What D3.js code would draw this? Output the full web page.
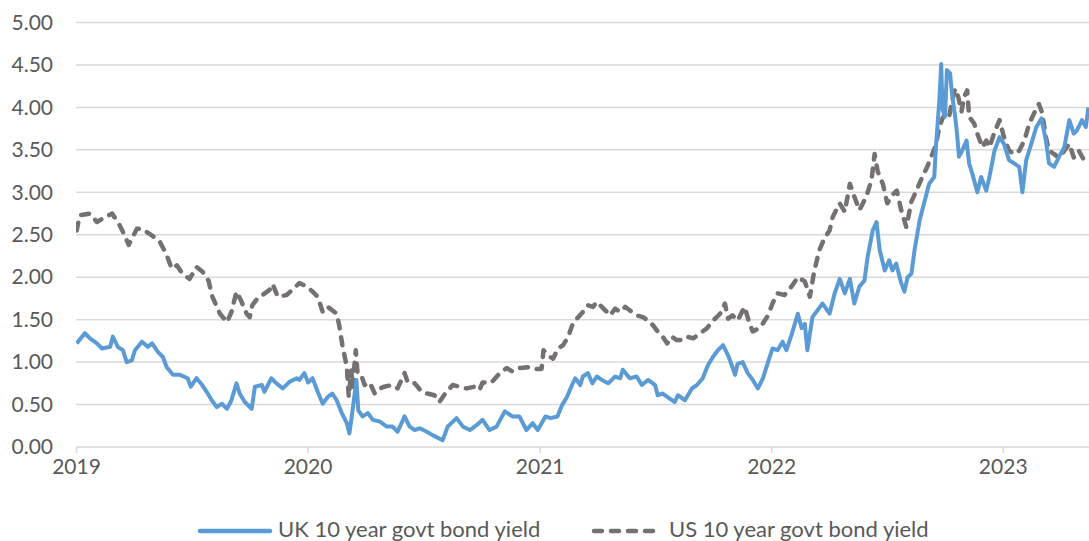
<!DOCTYPE html>
<html>
<head>
<meta charset="utf-8">
<script src="https://cdn.jsdelivr.net/npm/d3@7"></script>
<style>
  html, body { margin: 0; padding: 0; background: #fff; }
  svg { display: block; font-family: Lato, "Open Sans", sans-serif; }
</style>
</head>
<body>
<svg id="chart" width="1089" height="541"></svg>
<script>
// UK 10-year government bond yield (%)
const ukDates = [
  "2019-01-02","2019-01-15","2019-01-23","2019-02-03","2019-02-11","2019-02-24","2019-02-28","2019-03-08","2019-03-16","2019-03-22",
  "2019-03-30","2019-04-04","2019-04-15","2019-04-24","2019-05-01","2019-05-10","2019-05-18","2019-05-24","2019-06-03","2019-06-14",
  "2019-06-26","2019-07-01","2019-07-10","2019-07-18","2019-07-26","2019-08-03","2019-08-11","2019-08-19","2019-08-27","2019-09-03",
  "2019-09-11","2019-09-16","2019-09-24","2019-10-05","2019-10-10","2019-10-21","2019-10-25","2019-11-05","2019-11-13","2019-11-23",
  "2019-12-04","2019-12-15","2019-12-19","2019-12-27","2020-01-02","2020-01-09","2020-01-17","2020-01-25","2020-02-02","2020-02-09",
  "2020-02-16","2020-02-24","2020-03-03","2020-03-07","2020-03-12","2020-03-18","2020-03-21","2020-03-28","2020-04-05","2020-04-13",
  "2020-04-24","2020-05-05","2020-05-14","2020-05-22","2020-06-02","2020-06-10","2020-06-18","2020-06-26","2020-07-07","2020-07-16",
  "2020-08-01","2020-08-09","2020-08-23","2020-09-02","2020-09-13","2020-09-24","2020-10-03","2020-10-14","2020-10-25","2020-11-07",
  "2020-11-19","2020-11-30","2020-12-11","2020-12-21","2020-12-29","2021-01-10","2021-01-18","2021-01-29","2021-02-05","2021-02-13",
  "2021-02-21","2021-02-26","2021-03-06","2021-03-10","2021-03-18","2021-03-25","2021-04-01","2021-04-09","2021-04-19","2021-04-30",
  "2021-05-08","2021-05-12","2021-05-23","2021-06-03","2021-06-11","2021-06-21","2021-07-02","2021-07-06","2021-07-14","2021-07-25",
  "2021-08-02","2021-08-07","2021-08-18","2021-08-29","2021-09-06","2021-09-15","2021-09-23","2021-10-01","2021-10-09","2021-10-17",
  "2021-10-25","2021-10-31","2021-11-05","2021-11-09","2021-11-17","2021-11-25","2021-12-03","2021-12-11","2021-12-19","2021-12-27",
  "2022-01-03","2022-01-11","2022-01-19","2022-01-25","2022-02-02","2022-02-12","2022-02-18","2022-02-23","2022-02-27","2022-03-07",
  "2022-03-15","2022-03-23","2022-04-03","2022-04-11","2022-04-19","2022-04-27","2022-05-05","2022-05-12","2022-05-20","2022-05-28",
  "2022-06-02","2022-06-10","2022-06-16","2022-06-21","2022-06-29","2022-07-06","2022-07-11","2022-07-17","2022-07-25","2022-07-30",
  "2022-08-04","2022-08-10","2022-08-15","2022-08-23","2022-08-30","2022-09-07","2022-09-15","2022-09-18","2022-09-23","2022-09-26",
  "2022-09-28","2022-10-02","2022-10-05","2022-10-10","2022-10-13","2022-10-18","2022-10-21","2022-10-24","2022-10-29","2022-11-05",
  "2022-11-09","2022-11-14","2022-11-22","2022-11-28","2022-12-06","2022-12-11","2022-12-19","2022-12-27","2023-01-03","2023-01-11",
  "2023-01-19","2023-01-27","2023-02-01","2023-02-07","2023-02-15","2023-02-23","2023-03-03","2023-03-10","2023-03-15","2023-03-23",
  "2023-03-31","2023-04-08","2023-04-16","2023-04-23","2023-04-28","2023-05-06","2023-05-12","2023-05-16"
];
const ukYield = [
  1.22,1.34,1.28,1.22,1.16,1.18,1.30,1.18,1.14,1.00,
  1.02,1.14,1.24,1.18,1.22,1.12,1.06,0.94,0.85,0.85,
  0.81,0.71,0.81,0.74,0.65,0.55,0.47,0.51,0.45,0.55,
  0.75,0.63,0.53,0.45,0.71,0.73,0.65,0.81,0.75,0.69,
  0.77,0.81,0.79,0.87,0.76,0.81,0.65,0.51,0.59,0.63,
  0.55,0.40,0.28,0.16,0.43,0.79,0.43,0.36,0.40,0.32,
  0.30,0.24,0.24,0.18,0.36,0.24,0.20,0.22,0.18,0.14,
  0.08,0.24,0.34,0.24,0.20,0.26,0.32,0.20,0.24,0.42,
  0.36,0.36,0.20,0.28,0.20,0.36,0.34,0.36,0.49,0.59,
  0.73,0.81,0.73,0.83,0.87,0.75,0.83,0.79,0.75,0.83,
  0.81,0.91,0.81,0.83,0.73,0.79,0.73,0.61,0.63,0.57,
  0.53,0.61,0.55,0.69,0.73,0.81,0.96,1.06,1.14,1.20,
  1.08,0.96,0.85,0.98,1.00,0.87,0.79,0.69,0.81,1.00,
  1.16,1.14,1.24,1.14,1.32,1.57,1.40,1.45,1.14,1.53,
  1.61,1.69,1.57,1.81,1.98,1.81,1.98,1.69,1.89,1.96,
  2.24,2.55,2.65,2.32,2.08,2.20,2.08,2.16,1.93,1.83,
  2.00,2.04,2.32,2.67,2.87,3.10,3.18,3.57,4.08,4.51,
  3.98,3.89,4.44,4.40,4.16,3.89,3.69,3.42,3.49,3.61,
  3.34,3.22,3.00,3.18,3.02,3.18,3.49,3.65,3.57,3.38,
  3.34,3.30,3.00,3.38,3.57,3.77,3.87,3.61,3.34,3.30,
  3.42,3.53,3.85,3.69,3.73,3.85,3.77,4.00
];

// US 10-year government bond yield (%)
const usDates = [
  "2019-01-02","2019-01-07","2019-01-23","2019-02-03","2019-02-12","2019-02-27","2019-03-11","2019-03-19","2019-03-25","2019-04-07",
  "2019-04-15","2019-05-01","2019-05-13","2019-05-24","2019-06-01","2019-06-09","2019-06-18","2019-06-29","2019-07-10","2019-07-20",
  "2019-07-29","2019-08-03","2019-08-11","2019-08-16","2019-08-27","2019-09-03","2019-09-11","2019-09-19","2019-09-27","2019-10-02",
  "2019-10-06","2019-10-14","2019-10-22","2019-11-02","2019-11-07","2019-11-15","2019-11-29","2019-12-08","2019-12-19","2019-12-31",
  "2020-01-09","2020-01-17","2020-01-25","2020-02-02","2020-02-09","2020-02-16","2020-02-20","2020-02-25","2020-03-03","2020-03-06",
  "2020-03-10","2020-03-12","2020-03-17","2020-03-20","2020-03-26","2020-03-31","2020-04-08","2020-04-16","2020-04-24","2020-05-01",
  "2020-05-13","2020-05-22","2020-06-02","2020-06-07","2020-06-18","2020-06-29","2020-07-08","2020-07-19","2020-07-27","2020-08-07",
  "2020-08-17","2020-08-28","2020-09-08","2020-09-20","2020-09-28","2020-10-03","2020-10-17","2020-10-30","2020-11-10","2020-11-19",
  "2020-11-30","2020-12-16","2020-12-24","2021-01-04","2021-01-07","2021-01-14","2021-01-22","2021-01-30","2021-02-07","2021-02-15",
  "2021-02-23","2021-03-03","2021-03-10","2021-03-18","2021-03-26","2021-04-01","2021-04-09","2021-04-17","2021-04-22","2021-04-30",
  "2021-05-08","2021-05-16","2021-05-23","2021-06-03","2021-06-13","2021-06-21","2021-06-29","2021-07-06","2021-07-14","2021-07-21",
  "2021-07-28","2021-08-05","2021-08-13","2021-08-21","2021-08-31","2021-09-11","2021-09-22","2021-09-29","2021-10-07","2021-10-15",
  "2021-10-20","2021-10-25","2021-11-01","2021-11-09","2021-11-20","2021-11-28","2021-12-03","2021-12-15","2021-12-27","2022-01-03",
  "2022-01-11","2022-01-22","2022-02-02","2022-02-12","2022-02-23","2022-03-03","2022-03-10","2022-03-18","2022-03-26","2022-04-03",
  "2022-04-08","2022-04-19","2022-04-27","2022-05-05","2022-05-12","2022-05-20","2022-05-31","2022-06-08","2022-06-13","2022-06-18",
  "2022-06-26","2022-07-03","2022-07-11","2022-07-18","2022-07-25","2022-08-02","2022-08-10","2022-08-18","2022-08-27","2022-09-04",
  "2022-09-12","2022-09-18","2022-09-23","2022-09-28","2022-10-04","2022-10-09","2022-10-13","2022-10-18","2022-10-23","2022-10-28",
  "2022-11-01","2022-11-06","2022-11-09","2022-11-17","2022-11-22","2022-11-30","2022-12-06","2022-12-11","2022-12-19","2022-12-27",
  "2023-01-03","2023-01-11","2023-01-19","2023-01-27","2023-02-04","2023-02-12","2023-02-20","2023-02-27","2023-03-04","2023-03-10",
  "2023-03-15","2023-03-23","2023-03-31","2023-04-08","2023-04-16","2023-04-23","2023-05-01","2023-05-09","2023-05-16"
];
const usYield = [
  2.55,2.73,2.75,2.65,2.69,2.75,2.61,2.49,2.38,2.57,
  2.57,2.49,2.42,2.26,2.10,2.14,2.04,1.98,2.12,2.06,
  1.96,1.79,1.65,1.57,1.47,1.59,1.83,1.71,1.57,1.53,
  1.67,1.75,1.79,1.85,1.92,1.77,1.79,1.85,1.93,1.89,
  1.83,1.77,1.59,1.65,1.61,1.57,1.43,1.20,0.94,0.59,
  0.90,0.71,1.14,0.86,0.84,0.73,0.76,0.63,0.69,0.71,
  0.73,0.69,0.87,0.76,0.75,0.65,0.63,0.61,0.53,0.65,
  0.73,0.71,0.69,0.71,0.67,0.76,0.76,0.87,0.93,0.89,
  0.93,0.94,0.92,0.92,1.14,1.08,1.04,1.16,1.20,1.30,
  1.47,1.53,1.59,1.67,1.65,1.71,1.65,1.59,1.55,1.63,
  1.59,1.65,1.61,1.55,1.53,1.49,1.43,1.36,1.30,1.22,
  1.30,1.26,1.26,1.30,1.28,1.34,1.40,1.47,1.53,1.59,
  1.69,1.51,1.55,1.49,1.65,1.45,1.36,1.41,1.55,1.69,
  1.81,1.79,1.89,2.00,1.95,1.77,2.08,2.32,2.46,2.55,
  2.71,2.87,2.77,3.10,2.95,2.79,2.95,3.14,3.45,3.24,
  3.10,2.87,2.97,3.02,2.79,2.59,2.89,3.02,3.18,3.30,
  3.45,3.57,3.77,3.87,3.95,3.91,4.08,4.22,4.12,3.95,
  4.12,4.20,3.89,3.81,3.69,3.53,3.61,3.53,3.71,3.85,
  3.65,3.49,3.45,3.49,3.61,3.81,3.94,4.04,3.94,3.65,
  3.49,3.45,3.40,3.49,3.57,3.41,3.49,3.38,3.41
];

const yTicks = [0, 0.5, 1, 1.5, 2, 2.5, 3, 3.5, 4, 4.5, 5];
const xTickYears = ["2019", "2020", "2021", "2022", "2023"];
const seriesNames = ["UK 10 year govt bond yield", "US 10 year govt bond yield"];

const parse = d3.timeParse("%Y-%m-%d");
const uk = ukDates.map((d, i) => ({ date: parse(d), value: ukYield[i] }));
const us = usDates.map((d, i) => ({ date: parse(d), value: usYield[i] }));

const plotLeft = 76, plotRight = 1089, plotTop = 22.5, plotBottom = 447;

const x = d3.scaleTime()
  .domain([parse("2019-01-01"), parse("2023-05-17")])
  .range([plotLeft, plotRight]);
const y = d3.scaleLinear().domain([0, 5]).range([plotBottom, plotTop]);

const svg = d3.select("#chart");
const textColor = "#595959";
const gridColor = "#d9d9d9";
const ukColor = "#5B9BD5";
const usColor = "#767171";
const usDash = "8,9";

// horizontal gridlines
svg.append("g")
  .selectAll("line")
  .data(yTicks)
  .join("line")
  .attr("x1", plotLeft).attr("x2", plotRight)
  .attr("y1", d => y(d)).attr("y2", d => y(d))
  .attr("stroke", gridColor)
  .attr("stroke-width", 1.5);

// y-axis labels
const yAxis = d3.axisLeft(y).tickValues(yTicks).tickFormat(d3.format(".2f")).tickSize(0).tickPadding(0);
const gy = svg.append("g").attr("transform", "translate(53,0)").call(yAxis);
gy.select(".domain").remove();
gy.selectAll("text")
  .attr("fill", textColor)
  .style("font-size", "21px")
  .style("font-family", "Lato, 'Open Sans', sans-serif");

// x-axis with yearly ticks
const xAxis = d3.axisBottom(x)
  .tickValues(xTickYears.map(s => parse(s + "-01-01")))
  .tickFormat(d3.timeFormat("%Y"))
  .tickSize(6).tickPadding(6);
const gx = svg.append("g").attr("transform", `translate(0,${plotBottom})`).call(xAxis);
gx.select(".domain").remove();
gx.selectAll(".tick line").attr("stroke", gridColor).attr("stroke-width", 1.5);
gx.selectAll("text")
  .attr("fill", textColor)
  .style("font-size", "21px")
  .style("font-family", "Lato, 'Open Sans', sans-serif");

// clip series to the plot area
svg.append("clipPath").attr("id", "plot-clip")
  .append("rect").attr("x", plotLeft).attr("y", 0)
  .attr("width", plotRight - plotLeft).attr("height", plotBottom + 5);

const line = d3.line().x(d => x(d.date)).y(d => y(d.value));

const plot = svg.append("g").attr("clip-path", "url(#plot-clip)");

plot.append("path")
  .datum(us)
  .attr("d", line)
  .attr("fill", "none")
  .attr("stroke", usColor)
  .attr("stroke-width", 4.5)
  .attr("stroke-linecap", "round")
  .attr("stroke-linejoin", "round")
  .attr("stroke-dasharray", usDash);

plot.append("path")
  .datum(uk)
  .attr("d", line)
  .attr("fill", "none")
  .attr("stroke", ukColor)
  .attr("stroke-width", 4)
  .attr("stroke-linejoin", "round");

// legend
const legend = svg.append("g");
const legendItems = [
  { name: seriesNames[0], color: ukColor, dash: null, x1: 200, x2: 270, tx: 278 },
  { name: seriesNames[1], color: usColor, dash: usDash, x1: 594, x2: 660, tx: 669 }
];
legendItems.forEach(it => {
  legend.append("line")
    .attr("x1", it.x1).attr("x2", it.x2)
    .attr("y1", 531).attr("y2", 531)
    .attr("stroke", it.color)
    .attr("stroke-width", 4.5)
    .attr("stroke-linecap", "round")
    .attr("stroke-dasharray", it.dash);
  legend.append("text")
    .attr("x", it.tx).attr("y", 537)
    .attr("fill", textColor)
    .style("font-size", "22px")
    .text(it.name);
});
</script>
</body>
</html>
